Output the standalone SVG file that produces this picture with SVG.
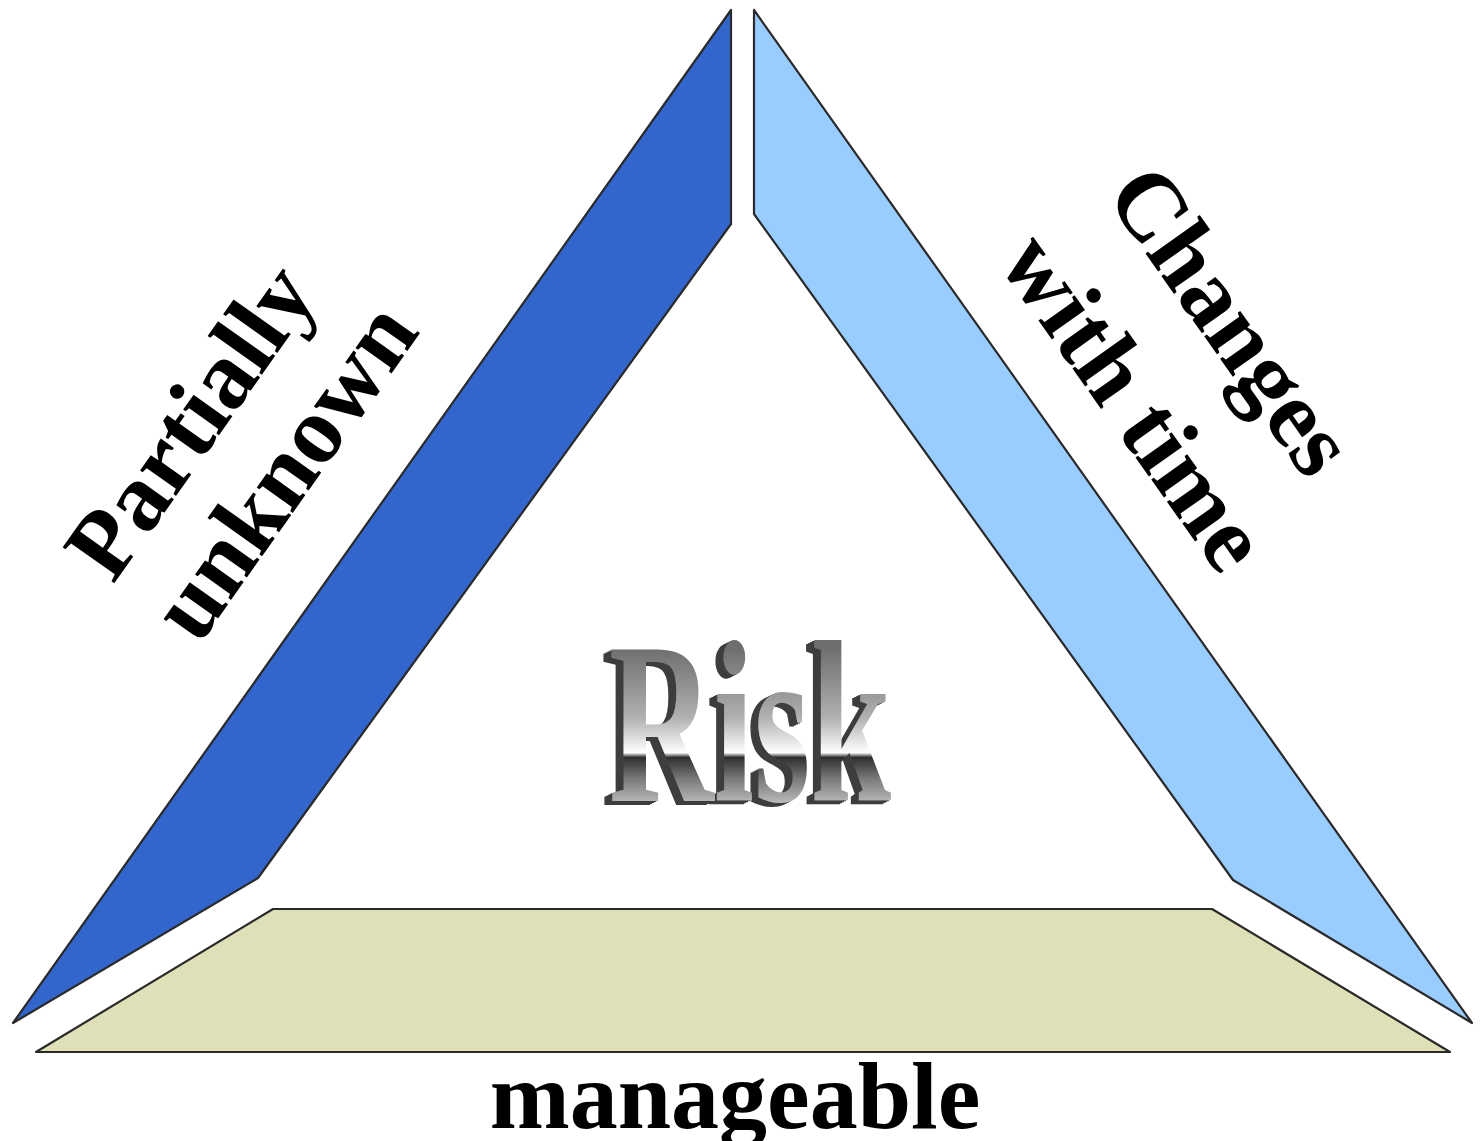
<svg xmlns="http://www.w3.org/2000/svg" width="1484" height="1141" viewBox="0 0 1484 1141">
<style>
.edge{stroke:#2a2a2a;stroke-width:2.2;stroke-linejoin:round}
.lbl{font-family:"Liberation Serif","Times New Roman",serif;font-weight:bold;font-size:96px;fill:#000}
.risk{font-family:"Liberation Serif","Times New Roman",serif;font-weight:bold;font-size:230px}
</style>
<defs>
<linearGradient id="chrome" gradientUnits="userSpaceOnUse" x1="0" y1="648" x2="0" y2="802">
<stop offset="0" stop-color="#6e6e6e"/>
<stop offset="0.45" stop-color="#b0b0b0"/>
<stop offset="0.68" stop-color="#ffffff"/>
<stop offset="0.71" stop-color="#2e2e2e"/>
<stop offset="0.85" stop-color="#7a7a7a"/>
<stop offset="1" stop-color="#b8b8b8"/>
</linearGradient>
<filter id="extrude" x="-10%" y="-10%" width="120%" height="120%">
<feOffset in="SourceAlpha" dx="-2" dy="1" result="o1"/>
<feOffset in="SourceAlpha" dx="-4" dy="2" result="o2"/>
<feOffset in="SourceAlpha" dx="-6" dy="3" result="o3"/>
<feOffset in="SourceAlpha" dx="-8" dy="4" result="o4"/>
<feMerge result="m"><feMergeNode in="o1"/><feMergeNode in="o2"/><feMergeNode in="o3"/><feMergeNode in="o4"/></feMerge>
<feFlood flood-color="#3c3c3c"/>
<feComposite in2="m" operator="in" result="dark"/>
<feMerge><feMergeNode in="dark"/><feMergeNode in="SourceGraphic"/></feMerge>
</filter>
</defs>
<rect width="1484" height="1141" fill="#ffffff"/>
<g id="side-left">
<polygon class="edge" fill="#3366CC" points="731,10 731,224 258,878 13,1023"/>
</g>
<g id="side-right">
<polygon class="edge" fill="#99CCFF" points="754,10 754,214 1233,880 1472,1023"/>
</g>
<g id="side-bottom">
<polygon class="edge" fill="#E0E0B8" points="273,909 1212,909 1450,1052 36,1052"/>
</g>
<g id="risk">
<text class="risk" fill="url(#chrome)" filter="url(#extrude)" x="609" y="801" textLength="282" lengthAdjust="spacingAndGlyphs">Risk</text>
</g>
<g id="label-left" transform="translate(113,585) rotate(-54.7)">
<text class="lbl" x="0" y="0">Partially</text>
<text class="lbl" x="0" y="105">unknown</text>
</g>
<g id="label-right" transform="translate(1104,195) rotate(54.7)">
<text class="lbl" x="0" y="0">Changes</text>
<text class="lbl" x="-7" y="126">with time</text>
</g>
<g id="label-bottom">
<text class="lbl" x="735" y="1128" text-anchor="middle">manageable</text>
</g>
<g id="connectors"></g>
</svg>
